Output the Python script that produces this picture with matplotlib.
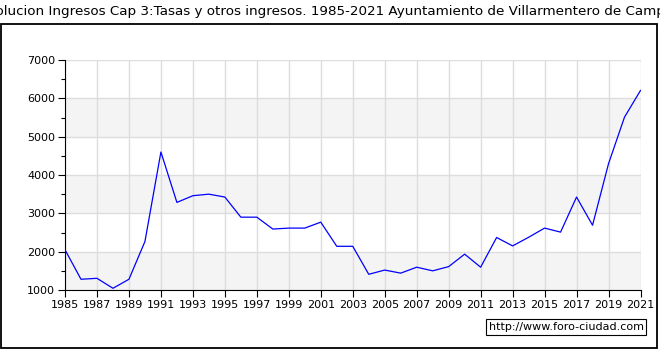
import matplotlib
matplotlib.use('Agg')
import matplotlib.pyplot as plt
from matplotlib.patches import Rectangle
from matplotlib.ticker import MultipleLocator

years = list(range(1985, 2022))
values = [2050, 1280, 1305, 1045, 1280, 2265, 4600, 3285, 3460, 3500,
          3425, 2900, 2900, 2590, 2615, 2615, 2770, 2140, 2140, 1410,
          1520, 1440, 1595, 1500, 1610, 1935, 1595, 2370, 2150, 2375,
          2615, 2510, 3425, 2690, 4295, 5510, 6205]
title = "Evolucion Ingresos Cap 3:Tasas y otros ingresos. 1985-2021 Ayuntamiento de Villarmentero de Campos"

fig = plt.figure(figsize=(6.6, 3.5), dpi=100)
ax = fig.add_axes([65/660, 1-290/350, 575.5/660, 230/350])

# shaded bands
for lo in (1000, 3000, 5000):
    ax.axhspan(lo, lo+1000, color='#f4f4f4', zorder=0, lw=0)

ax.plot(years, values, color='#0000ff', lw=0.9, zorder=3)

ax.set_xlim(1985, 2021)
ax.set_ylim(1000, 7000)
ax.set_xticks(range(1985, 2022, 2))
ax.yaxis.set_major_locator(MultipleLocator(1000))
ax.yaxis.set_minor_locator(MultipleLocator(500))
ax.grid(True, which='major', color='#dddddd', lw=1, zorder=1)
ax.tick_params(axis='both', which='both', labelsize=8, direction='out', color='black')
ax.tick_params(axis='both', which='major', length=5, width=0.8, pad=2)
ax.tick_params(axis='y', which='minor', length=3, width=0.8)
for s in ('top', 'right'):
    ax.spines[s].set_visible(False)
for s in ('left', 'bottom'):
    ax.spines[s].set_linewidth(0.8)

# outer border and title (title overflows the width, as in the original)
fig.patches.append(Rectangle((0.5/660, 2/350), 656/660, 324/350, transform=fig.transFigure,
                             fill=False, edgecolor='black', lw=1.3))
fig.text(0.5, 1-12/350, title, ha='center', va='center', fontsize=9.7)

fig.text(566/660, 1-327/350, "http://www.foro-ciudad.com", ha='center', va='center', fontsize=8,
         bbox=dict(boxstyle='square,pad=0.25', fc='white', ec='black', lw=0.8))

fig.savefig('out.png', dpi=100)
